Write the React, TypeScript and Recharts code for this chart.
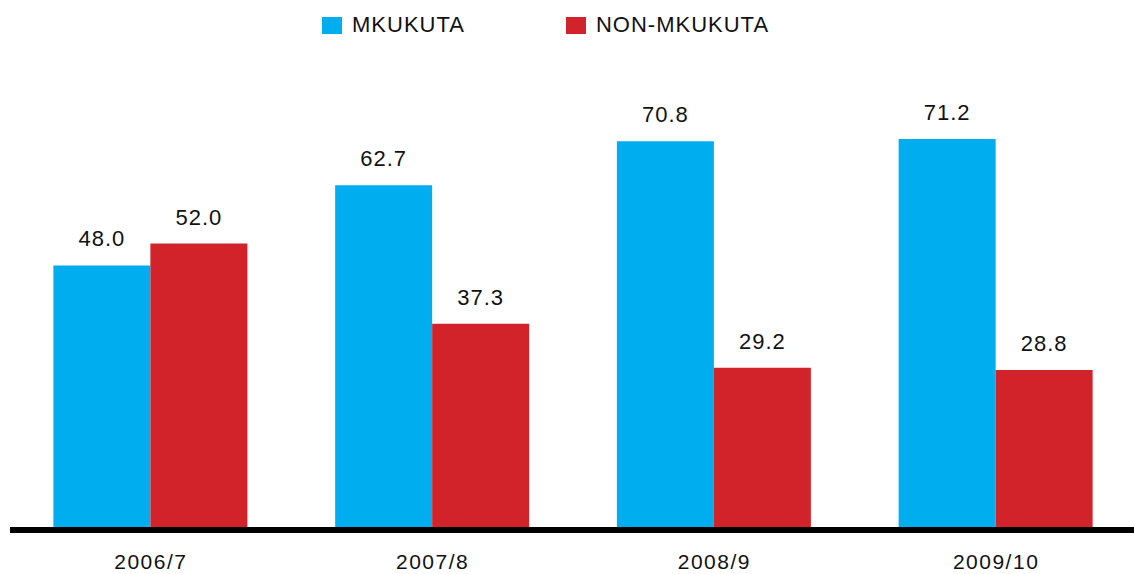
import { Bar, BarChart, LabelList, Legend, ReferenceLine, XAxis, YAxis } from "recharts";

const FONT = "'Liberation Sans', Arial, Helvetica, sans-serif";
const BLUE = "#00aeef";
const RED = "#d2232a";

const years = ["2006/7", "2007/8", "2008/9", "2009/10"];
const mkukuta = [48.0, 62.7, 70.8, 71.2];
const nonMkukuta = [52.0, 37.3, 29.2, 28.8];

const rows = years.map((year, i) => ({
  year,
  mkukuta: mkukuta[i],
  non: nonMkukuta[i],
}));

const fmt = (v: unknown) => Number(v).toFixed(1);

function LegendBox() {
  const item = (color: string, label: string, ml: number) => (
    <div style={{ display: "flex", alignItems: "center", marginLeft: ml }}>
      <span style={{ width: 20, height: 17, background: color, display: "inline-block" }} />
      <span style={{ marginLeft: 10, fontSize: 22, letterSpacing: 1, color: "#111" }}>{label}</span>
    </div>
  );
  return (
    <div style={{ display: "flex", fontFamily: FONT, height: 40, alignItems: "center" }}>
      {item(BLUE, "MKUKUTA", 322)}
      {item(RED, "NON-MKUKUTA", 101)}
    </div>
  );
}

export default function App() {
  return (
    <div
      style={{
        position: "fixed",
        left: 0,
        top: 0,
        width: 1134,
        height: 574,
        overflow: "hidden",
        background: "#fff",
        fontFamily: FONT,
      }}
    >
      <BarChart
        width={1140}
        height={574}
        data={rows}
        margin={{ top: 51, right: 3, left: 10, bottom: 0 }}
        barCategoryGap="15.4%"
        barGap={0}
      >
        <Legend
          verticalAlign="top"
          height={40}
          content={() => <LegendBox />}
          wrapperStyle={{ left: 0, top: 5, width: 1134 }}
        />
        <YAxis hide domain={[0, 80]} />
        <XAxis
          dataKey="year"
          axisLine={false}
          tickLine={false}
          tickSize={0}
          tickMargin={27}
          height={47}
          tick={{ fontSize: 21, fill: "#111", fontFamily: FONT, letterSpacing: 1.5 }}
        />
        <ReferenceLine y={-0.55} stroke="#000" strokeWidth={6} ifOverflow="visible" />
        <Bar dataKey="mkukuta" fill={BLUE} isAnimationActive={false}>
          <LabelList
            dataKey="mkukuta"
            position="top"
            offset={19}
            formatter={fmt}
            style={{ fontSize: 22, fill: "#111", fontFamily: FONT, letterSpacing: 1 }}
          />
        </Bar>
        <Bar dataKey="non" fill={RED} isAnimationActive={false}>
          <LabelList
            dataKey="non"
            position="top"
            offset={19}
            formatter={fmt}
            style={{ fontSize: 22, fill: "#111", fontFamily: FONT, letterSpacing: 1 }}
          />
        </Bar>
      </BarChart>
    </div>
  );
}
